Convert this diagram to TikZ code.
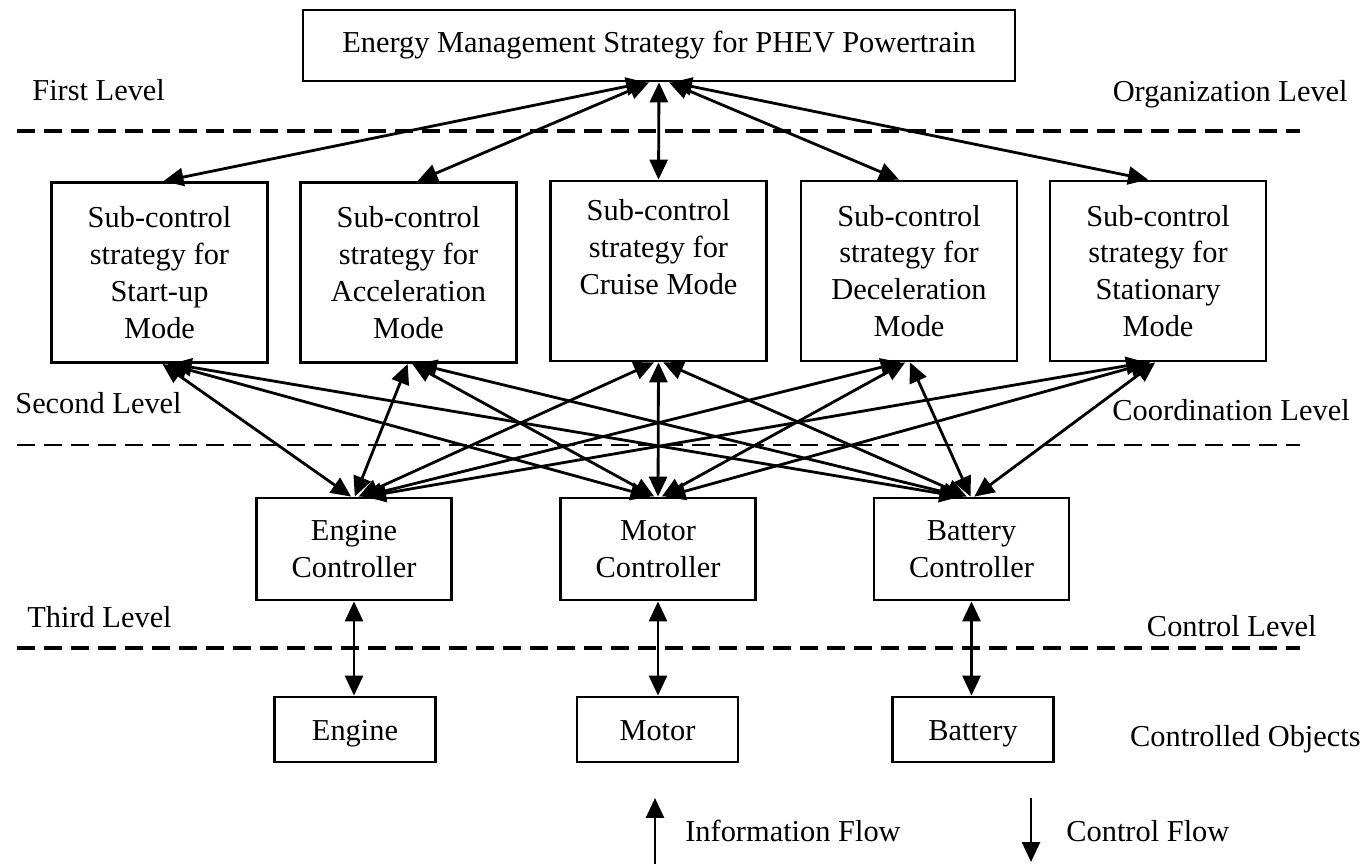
\documentclass[tikz,border=0pt]{standalone}
\usepackage{fontspec}
\setmainfont{Liberation Serif}
\usetikzlibrary{arrows.meta,calc}
\begin{document}
\begin{tikzpicture}[x=0.02cm,y=-0.02cm,
  lab/.style={font=\fontsize{17.3pt}{21pt}\selectfont, inner sep=0pt},
  box/.style={lab, draw, line width=1.6pt, align=center},
  subbox/.style={box, minimum width=4.32cm, minimum height=3.6cm},
  ctrlbox/.style={box, minimum width=3.9cm, minimum height=2.04cm},
  objbox/.style={box, minimum width=3.22cm, minimum height=1.3cm, text height=15pt, text depth=3pt},
  dbl/.style={line width=1.6pt, {Triangle[length=0.4cm,width=0.36cm]}-{Triangle[length=0.4cm,width=0.36cm]}},
  sgl/.style={line width=1.6pt, -{Triangle[length=0.4cm,width=0.36cm]}},
  sep/.style={line width=2pt, dash pattern=on 0.36cm off 0.18cm}]
\useasboundingbox (0,0) rectangle (1369,864);

% separators
\draw[sep] (17,131) -- (1300,131);
\draw[sep, line width=1.4pt] (17,445) -- (1300,445);
\draw[sep] (17,648) -- (1300,648);

% boxes
\node[box, minimum width=14.24cm, minimum height=1.42cm] (top) at (659,45.5) {Energy Management Strategy for PHEV Powertrain};

\node[subbox] (s1) at (159.5,272.5) {Sub-control\\strategy for\\Start-up\\Mode};
\node[subbox] (s2) at (408.5,272.5) {Sub-control\\strategy for\\Acceleration\\Mode};
\node[subbox] (s3) at (658.5,271) {Sub-control\\strategy for\\Cruise Mode\\\strut};
\node[subbox] (s4) at (909,271) {Sub-control\\strategy for\\Deceleration\\Mode};
\node[subbox] (s5) at (1158,271) {Sub-control\\strategy for\\Stationary\\Mode};

\node[ctrlbox] (c1) at (354,549) {Engine\\Controller};
\node[ctrlbox] (c2) at (658,549) {Motor\\Controller};
\node[ctrlbox] (c3) at (971.5,549) {Battery\\Controller};

\node[objbox] (o1) at (355,729.5) {Engine};
\node[objbox] (o2) at (657.5,729.5) {Motor};
\node[objbox] (o3) at (973,729.5) {Battery};

% level labels
\node[lab, anchor=base west] (l1) at (32,101) {First Level};
\node[lab, anchor=base east] (r1) at (1348,102) {Organization Level};
\node[lab, anchor=base west] (l2) at (15,414) {Second Level};
\node[lab, anchor=base east] (r2) at (1350,421) {Coordination Level};
\node[lab, anchor=base west] (l3) at (27,627) {Third Level};
\node[lab, anchor=base east] (r3) at (1317,636) {Control Level};
\node[lab, anchor=base east] (r4) at (1361,746) {Controlled Objects};

% top to sub-strategies
\draw[dbl] ([xshift=-0.26cm]top.south) -- ([xshift=0.08cm]s1.north);
\draw[dbl] ([xshift=-0.2cm]top.south) -- ([xshift=0.18cm]s2.north);
\draw[dbl] (top.south) -- (s3.north);
\draw[dbl] ([xshift=0.2cm]top.south) -- ([xshift=-0.2cm]s4.north);
\draw[dbl] ([xshift=0.26cm]top.south) -- ([xshift=-0.2cm]s5.north);

% sub-strategies to controllers
\foreach \s/\sx in {s1/159.5,s2/408.5,s3/658.5,s4/909,s5/1158}
  \foreach \c/\cx in {c1/354,c2/658,c3/971.5}
    \draw[dbl] ([xshift={0.015*(\cx-\sx)*0.5669pt}]\s.south) -- ([xshift={0.015*(\sx-\cx)*0.5669pt}]\c.north);

% controllers to objects
\draw[dbl] (c1.south) -- (c1.south |- o1.north);
\draw[dbl] (c2.south) -- (c2.south |- o2.north);
\draw[dbl] (c3.south) -- (c3.south |- o3.north);

% legend
\coordinate (ia) at (655,864);
\coordinate (ib) at (655,798);
\draw[sgl] (ia) -- (ib);
\node[lab, anchor=base west] (if) at (685,841) {Information Flow};
\coordinate (ca) at (1031,798);
\coordinate (cb) at (1031,862);
\draw[sgl] (ca) -- (cb);
\node[lab, anchor=base west] (cf) at (1066,841) {Control Flow};
\end{tikzpicture}
\end{document}
